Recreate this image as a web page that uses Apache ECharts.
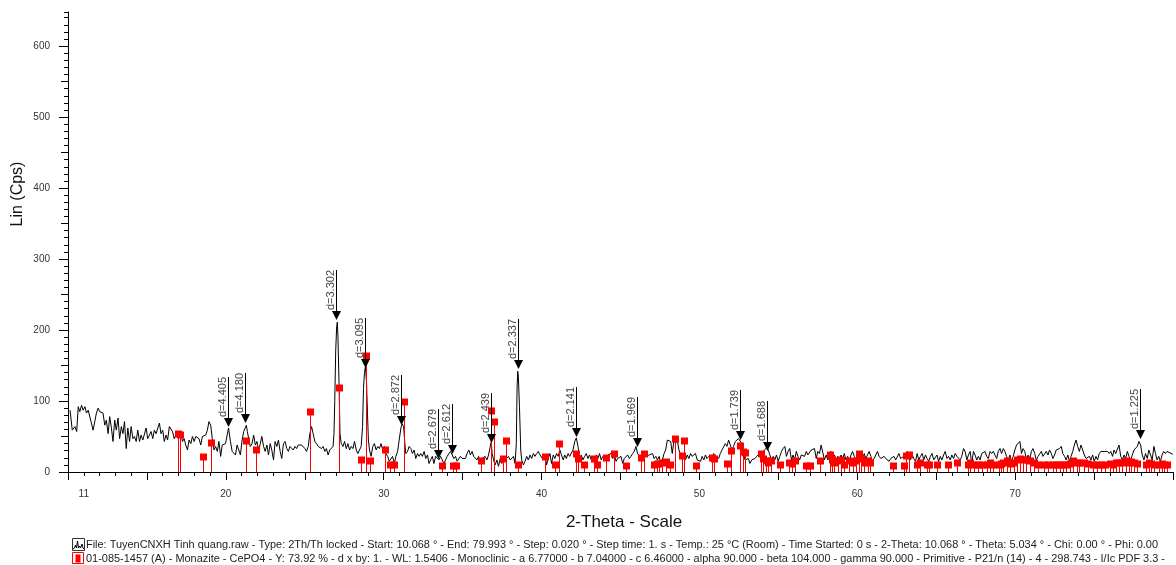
<!DOCTYPE html>
<html><head><meta charset="utf-8">
<script src="https://cdn.jsdelivr.net/npm/echarts@6/dist/echarts.min.js"></script>
<style>html,body{margin:0;padding:0;background:#fff}#c{width:1176px;height:565px}</style>
</head><body><div id="c"></div>
<script>
// ---------- DATA ----------
// measured scan: [2-Theta (deg), Lin (Cps)]
const scan = [
[10.13,87],[10.27,59],[10.44,64],[10.55,57],[10.65,92],[10.75,85],[10.86,94],[10.96,87],[11.07,92],[11.17,83],[11.28,87],[11.38,85],[11.59,59],[11.80,83],[11.91,90],[12.01,85],[12.22,83],[12.33,66],[12.43,73],[12.54,54],[12.64,78],[12.75,62],[12.85,43],[12.96,73],[13.06,59],[13.17,76],[13.27,47],[13.38,64],[13.48,54],[13.58,71],[13.69,33],[13.79,62],[13.90,43],[14.00,64],[14.11,47],[14.21,50],[14.32,43],[14.42,59],[14.53,43],[14.63,52],[14.74,45],[14.95,62],[15.05,47],[15.16,52],[15.26,57],[15.37,47],[15.47,59],[15.58,54],[15.79,69],[15.89,54],[16.00,59],[16.10,43],[16.21,52],[16.31,45],[16.42,64],[16.62,57],[16.73,47],[16.83,52],[17.04,50],[17.15,57],[17.25,43],[17.36,47],[17.46,38],[17.57,31],[17.67,45],[17.78,40],[17.88,50],[17.99,43],[18.09,50],[18.30,47],[18.41,38],[18.51,50],[18.72,52],[18.83,59],[18.93,71],[19.04,66],[19.14,47],[19.25,31],[19.35,36],[19.46,29],[19.56,43],[19.67,22],[19.77,38],[19.87,36],[19.98,40],[20.08,52],[20.17,62],[20.29,43],[20.40,29],[20.50,31],[20.61,24],[20.71,38],[20.82,31],[20.92,24],[21.03,45],[21.13,57],[21.24,58],[21.30,66],[21.36,57],[21.45,47],[21.55,36],[21.66,40],[21.76,52],[21.87,38],[21.97,43],[22.08,29],[22.18,40],[22.28,50],[22.39,36],[22.49,29],[22.60,38],[22.70,24],[22.81,40],[22.91,31],[23.02,17],[23.12,43],[23.23,36],[23.33,45],[23.44,29],[23.54,19],[23.65,40],[23.75,43],[23.86,33],[23.96,29],
[24.06,36],[24.17,38],[24.27,31],[24.38,36],[24.48,33],[24.59,38],[24.69,40],[24.80,38],[24.90,40],[25.01,33],[25.11,29],[25.22,36],[25.32,54],[25.43,64],[25.53,54],[25.64,43],[25.74,40],[25.85,36],[25.95,38],[26.06,33],[26.16,36],[26.27,29],[26.37,33],[26.48,24],[26.58,31],[26.69,29],[26.79,36],[26.85,54],[26.90,101],[26.96,172],[27.02,205],[27.06,211],[27.10,191],[27.17,125],[27.23,54],[27.31,40],[27.42,36],[27.52,43],[27.63,33],[27.73,40],[27.84,31],[27.94,36],[28.05,33],[28.15,43],[28.26,31],[28.36,26],[28.47,24],[28.57,36],[28.66,64],[28.72,118],[28.78,140],[28.84,148],[28.91,128],[28.97,83],[29.03,45],[29.10,31],[29.20,22],[29.31,36],[29.41,40],[29.52,31],[29.62,36],[29.73,33],[29.83,40],[29.94,31],[30.04,36],[30.14,26],[30.25,22],[30.35,15],[30.46,17],[30.56,22],[30.67,12],[30.77,22],[30.88,29],[30.98,45],[31.09,62],[31.17,68],[31.26,64],[31.34,40],[31.40,26],[31.51,29],[31.61,36],[31.72,33],[31.82,26],[31.93,31],[32.03,19],[32.14,26],[32.24,22],[32.35,26],[32.45,22],[32.56,29],[32.66,19],[32.77,24],[32.87,12],[32.97,17],[33.08,22],[33.18,12],[33.29,22],[33.39,24],[33.50,17],[33.60,22],[33.71,17],[33.81,12],[33.92,17],[34.02,22],[34.13,26],[34.23,29],[34.34,24],[34.44,19],[34.55,22],[34.65,15],[34.76,17],[34.86,22],[34.97,19],[35.07,17],[35.18,19],[35.28,26],[35.39,31],[35.49,24],[35.60,29],[35.70,22],[35.81,24],[35.91,17],[36.01,22],[36.12,12],[36.22,19],[36.33,17],[36.43,22],[36.54,17],[36.64,24],[36.75,36],[36.81,42],[36.87,26],[36.96,17],[37.06,10],[37.17,17],[37.27,8],[37.38,19],[37.48,12],[37.59,22],[37.69,17],[37.80,15],[37.90,22],[38.01,17],[38.11,19],[38.22,22],[38.32,12],[38.40,40],[38.45,120],[38.49,142],[38.53,134],[38.60,92],[38.68,31],[38.74,17],
[38.85,10],[38.95,15],[39.06,22],[39.16,17],[39.27,24],[39.37,19],[39.48,26],[39.58,22],[39.69,26],[39.79,29],[39.90,24],[40.00,26],[40.11,17],[40.21,24],[40.32,10],[40.42,19],[40.53,26],[40.63,12],[40.74,24],[40.84,19],[40.95,26],[41.05,22],[41.16,31],[41.26,24],[41.37,17],[41.47,24],[41.57,19],[41.68,26],[41.78,22],[41.89,24],[41.99,31],[42.10,43],[42.20,48],[42.31,36],[42.41,19],[42.52,24],[42.62,17],[42.73,22],[42.83,26],[42.94,19],[43.04,24],[43.15,17],[43.25,22],[43.36,12],[43.46,24],[43.57,19],[43.67,26],[43.78,17],[43.88,22],[43.99,24],[44.09,19],[44.20,24],[44.30,22],[44.40,26],[44.51,19],[44.61,24],[44.72,15],[44.82,19],[44.93,17],[45.03,22],[45.14,12],[45.24,19],[45.35,17],[45.45,24],[45.56,19],[45.66,22],[45.77,26],[45.87,29],[45.98,36],[46.08,26],[46.19,22],[46.29,24],[46.40,19],[46.50,26],[46.61,22],[46.71,24],[46.82,24],[46.92,22],[47.03,26],[47.13,19],[47.24,22],[47.34,17],[47.45,22],[47.55,12],[47.65,17],[47.76,26],[47.86,31],[47.97,45],[48.07,47],[48.18,43],[48.28,26],[48.39,45],[48.49,40],[48.60,45],[48.70,31],[48.81,24],[48.91,19],[49.02,22],[49.12,17],[49.23,24],[49.33,19],[49.44,26],[49.54,22],[49.65,24],[49.75,26],[49.86,17],[49.96,19],[50.07,15],[50.17,22],[50.28,17],[50.38,24],[50.48,19],[50.59,22],[50.69,24],[50.80,19],[50.90,26],[51.01,22],[51.11,24],[51.22,19],[51.32,26],[51.43,31],[51.53,29],[51.64,40],[51.74,36],[51.85,45],[51.95,43],[52.06,31],[52.16,36],[52.27,43],[52.37,45],[52.48,47],[52.58,45],[52.69,40],[52.79,26],
[52.89,17],[53.00,15],[53.10,19],[53.20,12],[53.31,17],[53.41,15],[53.52,19],[53.62,22],[53.73,24],[53.83,26],[53.94,22],[54.04,29],[54.15,31],[54.25,34],[54.36,31],[54.46,24],[54.57,17],[54.67,22],[54.78,17],[54.88,24],[54.99,15],[55.09,22],[55.20,29],[55.30,33],[55.41,36],[55.51,22],[55.62,29],[55.72,33],[55.83,17],[55.93,24],[56.03,17],[56.14,29],[56.24,22],[56.35,17],[56.45,24],[56.56,26],[56.66,22],[56.77,29],[56.87,24],[56.98,26],[57.08,31],[57.19,29],[57.29,33],[57.40,19],[57.50,29],[57.61,26],[57.71,38],[57.82,36],[57.92,17],[58.03,24],[58.13,17],[58.24,22],[58.34,29],[58.45,19],[58.55,24],[58.66,17],[58.76,22],[58.87,17],[58.97,24],[59.07,19],[59.18,26],[59.28,17],[59.39,22],[59.49,15],[59.60,24],[59.70,29],[59.81,22],[59.91,17],[60.02,24],[60.12,15],[60.23,22],[60.33,17],[60.44,26],[60.54,19],[60.65,24],[60.75,29],[60.86,22],[60.96,15],[61.07,19],[61.17,24],[61.28,29],[61.38,22],[61.49,19],[61.59,17],[61.70,22],[61.80,19],[61.91,17],[62.01,15],[62.12,19],[62.22,17],[62.32,22],[62.43,17],[62.53,15],[62.64,26],[62.74,19],[62.85,17],[62.95,22],[63.06,24],[63.16,29],[63.27,22],[63.37,17],[63.48,24],[63.58,19],[63.69,15],[63.79,26],[63.90,17],[64.00,22],[64.11,26],[64.21,17],[64.32,24],[64.42,19],[64.53,15],[64.63,22],[64.74,26],[64.84,17],[64.95,19],[65.05,24],[65.15,15],[65.26,22],[65.36,17],[65.47,24],[65.57,29],[65.68,19],[65.78,22],[65.89,17],[65.99,24],[66.10,19],[66.20,26],[66.31,22],[66.41,24],[66.52,17],[66.62,22],[66.73,33],[66.83,29],[66.94,17],[67.04,24],[67.15,29],[67.25,12],[67.36,29],
[67.46,24],[67.57,17],[67.67,22],[67.78,17],[67.88,26],[67.99,24],[68.09,29],[68.20,22],[68.30,19],[68.41,29],[68.51,26],[68.62,29],[68.72,24],[68.83,19],[68.93,29],[69.04,33],[69.14,26],[69.25,33],[69.35,29],[69.46,22],[69.56,17],[69.67,24],[69.77,15],[69.88,22],[69.98,31],[70.09,38],[70.19,36],[70.30,43],[70.40,26],[70.50,33],[70.61,29],[70.71,17],[70.82,24],[70.92,17],[71.03,29],[71.13,33],[71.24,26],[71.34,17],[71.45,22],[71.55,24],[71.66,29],[71.76,22],[71.87,24],[71.97,29],[72.08,24],[72.18,31],[72.29,26],[72.39,19],[72.50,24],[72.60,31],[72.71,29],[72.81,33],[72.92,36],[73.02,26],[73.13,22],[73.23,17],[73.34,24],[73.44,15],[73.54,22],[73.65,29],[73.75,38],[73.86,45],[73.96,36],[74.07,29],[74.17,38],[74.28,31],[74.38,24],[74.49,19],[74.59,17],[74.70,22],[74.80,17],[74.91,24],[75.01,15],[75.12,22],[75.22,17],[75.33,26],[75.43,29],[75.54,31],[75.64,29],[75.75,31],[75.85,29],[75.96,26],[76.06,29],[76.17,22],[76.27,31],[76.37,26],[76.48,24],[76.58,38],[76.69,22],[76.79,17],[76.90,24],[77.00,19],[77.11,29],[77.21,22],[77.32,17],[77.42,24],[77.53,31],[77.63,29],[77.74,36],[77.84,43],[77.95,38],[78.05,24],[78.16,17],[78.26,26],[78.37,19],[78.47,31],[78.58,24],[78.68,17],[78.79,36],[78.89,26],[78.99,17],[79.10,22],[79.20,15],[79.31,24],[79.41,29],[79.52,26],[79.62,29],[79.99,25]
];

// reference pattern 01-085-1457 Monazite (CePO4): [2-Theta, Cps]
const refSticks = [
[16.98,53],[17.10,52],[18.55,21],[19.04,41],[21.28,43],[21.91,31],[25.32,85],[27.18,118],[28.53,17],[28.85,163],[29.10,15],[30.06,31],[30.42,10],[30.67,10],[31.30,98],[33.71,8],[34.38,8],[34.55,8],[36.16,15],[36.81,86],[36.96,71],[37.55,19],[37.72,44],[38.50,10],[40.24,21],[40.84,10],[41.13,39],[42.18,25],[42.28,18],[42.70,10],[43.32,19],[43.50,10],[44.09,20],[44.56,25],[45.33,9],[46.27,20],[46.50,25],[47.13,10],[47.30,11],[47.45,11],[47.65,13],[47.86,14],[48.13,10],[48.44,46],[48.87,22],[49.04,43],[49.80,9],[50.81,20],[50.92,19],[51.76,11],[51.97,30],[52.58,36],[52.74,28],[52.90,27],[53.92,25],[54.04,18],[54.19,15],[54.36,12],[54.53,15],[55.09,10],[55.65,12],[55.85,11],[56.03,15],[56.77,9],[56.98,9],[57.61,16],[58.24,24],[58.38,17],[58.55,12],[58.76,15],[58.97,17],[59.18,10],[59.49,15],[59.70,12],[59.91,15],[60.08,26],[60.23,18],[60.44,12],[60.66,16],[60.80,13],[62.25,8],[62.95,8],[63.10,22],[63.30,24],[63.79,10],[63.96,12],[64.42,10],[64.52,10],[65.05,10],[65.72,10],[66.31,12],[67.04,10],[67.15,12],[67.40,10],[67.67,10],[67.90,10],[68.20,10],[68.41,12],[68.60,10],[68.95,10],[69.10,11],[69.25,12],[69.46,15],[69.70,11],[69.90,12],[70.09,17],[70.30,19],[70.50,17],[70.71,17],[70.92,15],[71.20,12],[71.45,10],[71.80,10],[72.08,10],[72.39,10],[72.60,10],[72.81,10],[73.00,10],[73.23,10],[73.45,11],[73.65,15],[73.90,12],[74.07,12],[74.38,12],[74.60,11],[74.91,10],[75.20,10],[75.43,10],[75.70,10],[76.00,11],[76.17,10],[76.40,12],[76.58,12],[76.80,13],[77.00,15],[77.21,13],[77.35,14],[77.53,13],[77.70,11],[78.26,10],[78.47,12],[78.60,11],[78.80,10],[79.10,10],[79.30,11],[79.41,10],[79.60,10]
];

// peak search markers: 2-Theta, arrow-tip Cps
const dTheta = [20.14, 21.24, 26.98, 28.82, 31.11, 33.42, 34.30, 36.82, 38.49, 42.18, 46.06, 52.59, 54.30, 77.92];
const dTip   = [64, 69, 214, 146, 66, 19, 25, 41, 145, 50, 35, 45, 30, 46];
const dText  = ['d=4.405','d=4.180','d=3.302','d=3.095','d=2.872','d=2.679','d=2.612','d=2.439','d=2.337','d=2.141','d=1.969','d=1.739','d=1.688','d=1.225'];

const xTickLabels = [11, 20, 30, 40, 50, 60, 70];
const yTickLabels = [0, 100, 200, 300, 400, 500, 600];

const xAxisName = '2-Theta - Scale';
const yAxisName = 'Lin (Cps)';
const legendLine1 = 'File: TuyenCNXH Tinh quang.raw - Type: 2Th/Th locked - Start: 10.068 ° - End: 79.993 ° - Step: 0.020 ° - Step time: 1. s - Temp.: 25 °C (Room) - Time Started: 0 s - 2-Theta: 10.068 ° - Theta: 5.034 ° - Chi: 0.00 ° - Phi: 0.00';
const legendLine2 = '01-085-1457 (A) - Monazite - CePO4 - Y: 73.92 % - d x by: 1. - WL: 1.5406 - Monoclinic - a 6.77000 - b 7.04000 - c 6.46000 - alpha 90.000 - beta 104.000 - gamma 90.000 - Primitive - P21/n (14) - 4 - 298.743 - I/Ic PDF 3.3 -';

// ---------- LAYOUT ----------
const FONT = '"Liberation Sans", Arial, sans-serif';
const chart = echarts.init(document.getElementById('c'), null, {renderer: 'canvas'});
const mctx = document.createElement('canvas').getContext('2d');
function fitScale(text, size, target) {
  mctx.font = size + 'px ' + FONT;
  return target / mctx.measureText(text).width;
}
const gridLeft = 68, gridW = 1113;

const tickCommon = {lineStyle: {color: '#000', width: 1}};
const option = {
  animation: false,
  backgroundColor: '#fff',
  grid: [
    {left: gridLeft, width: gridW, top: 12, height: 460},
    {left: gridLeft, width: gridW, top: 46, height: 426}
  ],
  xAxis: [
    {type: 'value', gridIndex: 0, position: 'bottom', min: 10, max: 80, interval: 1,
     axisLine: {show: true, lineStyle: {color: '#000', width: 1}},
     axisTick: Object.assign({length: 4}, tickCommon),
     splitLine: {show: false},
     axisLabel: {margin: 17, color: '#333', fontSize: 10, fontFamily: FONT,
       formatter: v => xTickLabels.indexOf(Math.round(v)) >= 0 && Math.abs(v - Math.round(v)) < 1e-6 ? String(Math.round(v)) : ''}},
    {type: 'value', gridIndex: 0, position: 'bottom', min: 10, max: 80, interval: 5,
     axisLine: {show: false}, axisTick: Object.assign({length: 8}, tickCommon),
     axisLabel: {show: false}, splitLine: {show: false}},
    {type: 'value', gridIndex: 1, min: 10, max: 80, show: false}
  ],
  yAxis: [
    {type: 'value', gridIndex: 0, position: 'left', min: 0, max: 648, interval: 10,
     axisLine: {show: true, lineStyle: {color: '#000', width: 1}},
     axisTick: Object.assign({length: 4}, tickCommon),
     axisLabel: {show: false}, splitLine: {show: false}},
    {type: 'value', gridIndex: 1, position: 'left', min: 0, max: 600, interval: 50,
     axisLine: {show: false}, axisTick: Object.assign({length: 7}, tickCommon),
     axisLabel: {show: false}, splitLine: {show: false}},
    {type: 'value', gridIndex: 1, position: 'left', min: 0, max: 600, interval: 100,
     axisLine: {show: false}, axisTick: Object.assign({length: 9}, tickCommon),
     axisLabel: {margin: 18, color: '#333', fontSize: 10, fontFamily: FONT,
       formatter: v => yTickLabels.indexOf(v) >= 0 ? String(v) : ''},
     splitLine: {show: false}}
  ],
  series: [
    {type: 'line', name: 'scan', xAxisIndex: 0, yAxisIndex: 0, data: scan,
     showSymbol: false, symbol: 'none', lineStyle: {color: '#000', width: 1}, z: 2},
    {type: 'custom', name: 'Monazite', xAxisIndex: 0, yAxisIndex: 0, data: refSticks, z: 3,
     encode: {x: 0, y: 1},
     renderItem: (params, api) => {
       const top = api.coord([api.value(0), api.value(1)]);
       const base = api.coord([api.value(0), 0]);
       const x = Math.round(top[0]) + 0.5;
       return {type: 'group', children: [
         {type: 'line', shape: {x1: x, y1: top[1], x2: x, y2: base[1]}, style: {stroke: '#ff0000', lineWidth: 1}},
         {type: 'rect', shape: {x: x - 3.5, y: Math.round(top[1]) - 3.5, width: 7, height: 7}, style: {fill: '#ff0000'}}
       ]};
     }},
    {type: 'custom', name: 'peaks', xAxisIndex: 0, yAxisIndex: 0, z: 4,
     data: dTheta.map((t, i) => [t, dTip[i]]), encode: {x: 0, y: 1},
     renderItem: (params, api) => {
       const p = api.coord([api.value(0), api.value(1)]);
       const x = Math.round(p[0]) + 0.5, y = Math.round(p[1]);
       return {type: 'group', children: [
         {type: 'line', shape: {x1: x, y1: y - 50, x2: x, y2: y - 6}, style: {stroke: '#000', lineWidth: 1}},
         {type: 'polygon', shape: {points: [[x - 4.5, y - 9], [x + 4.5, y - 9], [x, y]]}, style: {fill: '#000'}},
         {type: 'text', x: x - 0.5, y: y - 50, rotation: Math.PI / 2,
          style: {text: dText[params.dataIndex], align: 'right', verticalAlign: 'bottom',
                  font: '11px ' + FONT, fill: '#444'}}
       ]};
     }}
  ],
  graphic: [
    {type: 'text', x: 18, y: 194, rotation: Math.PI / 2,
     style: {text: yAxisName, align: 'center', verticalAlign: 'middle', font: '16px ' + FONT, fill: '#111'}},
    {type: 'text', x: 624, y: 522,
     style: {text: xAxisName, align: 'center', verticalAlign: 'middle', font: '17px ' + FONT, fill: '#111'}},
    {type: 'rect', shape: {x: 72.5, y: 538.5, width: 12, height: 12}, style: {fill: '#fff', stroke: '#333', lineWidth: 1}},
    {type: 'polyline', shape: {points: [[73, 549], [74.5, 548], [75.5, 545], [76.5, 548], [77.5, 541], [78.5, 548], [79.5, 546], [80.5, 548], [82, 544], [83, 548], [84, 549]]},
     style: {stroke: '#000', lineWidth: 1, fill: null}},
    {type: 'text', x: 86, y: 545, scaleX: fitScale(legendLine1, 10, 1072),
     style: {text: legendLine1, align: 'left', verticalAlign: 'middle', font: '10px ' + FONT, fill: '#222'}},
    {type: 'rect', shape: {x: 72.5, y: 552.5, width: 11, height: 11}, style: {fill: '#fff', stroke: '#ff0000', lineWidth: 1}},
    {type: 'rect', shape: {x: 75.5, y: 554.5, width: 5, height: 8}, style: {fill: '#ff0000'}},
    {type: 'text', x: 86, y: 559, scaleX: fitScale(legendLine2, 10, 1079),
     style: {text: legendLine2, align: 'left', verticalAlign: 'middle', font: '10px ' + FONT, fill: '#222'}}
  ]
};
chart.setOption(option);
</script>
</body></html>
